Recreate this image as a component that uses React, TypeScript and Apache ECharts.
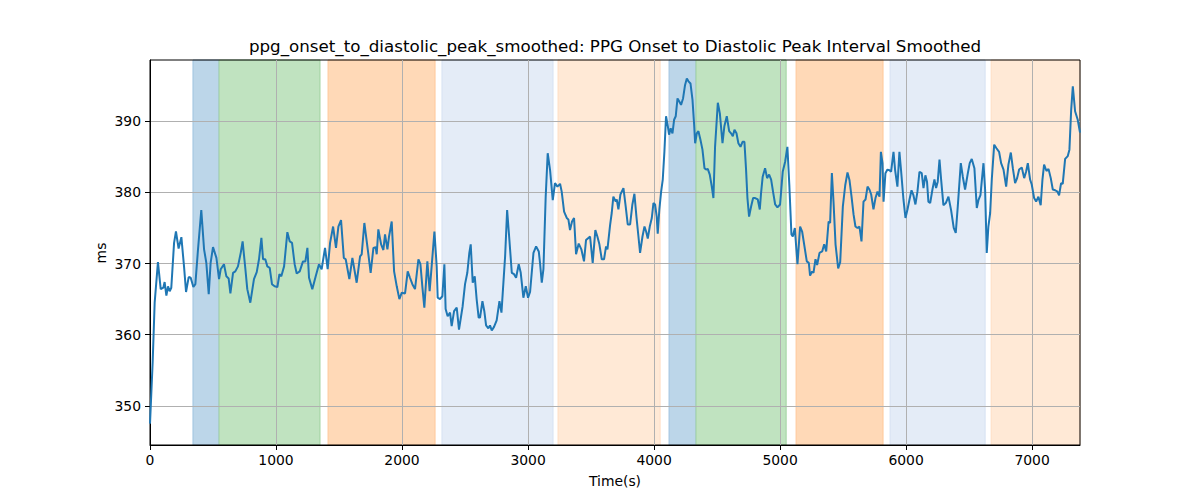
import React, { useEffect, useRef } from "react";
import * as echarts from "echarts";

const CHART_TITLE = "ppg_onset_to_diastolic_peak_smoothed: PPG Onset to Diastolic Peak Interval Smoothed";
const X_LABEL = "Time(s)";
const Y_LABEL = "ms";

const xTicks = [0, 1000, 2000, 3000, 4000, 5000, 6000, 7000];
const yTicks = [350, 360, 370, 380, 390];

const timeSec = [
  0, 21, 37, 63, 85, 106, 116, 130, 143, 156, 169, 191, 206, 227, 249, 270, 286, 307, 323, 344,
  360, 381, 407, 429, 447, 466, 481, 500, 527, 548, 561, 587, 606, 624, 638, 659, 677, 698, 720, 735,
  757, 772, 796, 825, 847, 865, 884, 897, 915, 931, 950, 968, 989, 1011, 1027, 1042, 1064, 1090, 1109, 1127,
  1148, 1164, 1188, 1214, 1233, 1249, 1262, 1288, 1315, 1341, 1362, 1389, 1410, 1429, 1453, 1476, 1495, 1516, 1538, 1553,
  1582, 1606, 1640, 1667, 1680, 1701, 1728, 1751, 1773, 1791, 1799, 1812, 1834, 1852, 1865, 1884, 1897, 1918, 1937, 1958,
  1979, 1998, 2024, 2045, 2063, 2082, 2103, 2130, 2146, 2161, 2177, 2201, 2219, 2235, 2257, 2275, 2283, 2301, 2320, 2336,
  2346, 2362, 2381, 2394, 2413, 2434, 2452, 2481, 2500, 2518, 2534, 2545, 2561, 2577, 2592, 2608, 2619, 2638, 2653, 2667,
  2685, 2698, 2712, 2730, 2751, 2773, 2789, 2818, 2834, 2852, 2871, 2889, 2905, 2926, 2942, 2963, 2982, 3000, 3016, 3043,
  3064, 3085, 3095, 3109, 3122, 3140, 3156, 3175, 3196, 3214, 3233, 3254, 3267, 3286, 3307, 3320, 3333, 3349, 3365, 3381,
  3402, 3423, 3444, 3460, 3479, 3492, 3513, 3534, 3550, 3566, 3585, 3603, 3619, 3630, 3651, 3664, 3677, 3696, 3704, 3717,
  3733, 3757, 3775, 3791, 3810, 3828, 3844, 3860, 3876, 3889, 3908, 3924, 3937, 3950, 3966, 3982, 3995, 4008, 4021, 4029,
  4042, 4056, 4069, 4082, 4095, 4109, 4119, 4132, 4146, 4159, 4172, 4186, 4199, 4214, 4230, 4246, 4260, 4273, 4289, 4305,
  4318, 4326, 4339, 4352, 4368, 4384, 4400, 4413, 4426, 4442, 4458, 4471, 4484, 4506, 4522, 4543, 4558, 4577, 4596, 4611,
  4625, 4638, 4654, 4669, 4686, 4702, 4717, 4730, 4741, 4754, 4770, 4786, 4802, 4823, 4839, 4849, 4862, 4881, 4897, 4913,
  4929, 4945, 4961, 4979, 5000, 5021, 5040, 5058, 5074, 5090, 5101, 5117, 5138, 5159, 5175, 5191, 5212, 5228, 5238, 5254,
  5265, 5281, 5294, 5313, 5334, 5350, 5366, 5385, 5397, 5411, 5424, 5440, 5461, 5477, 5498, 5517, 5535, 5551, 5567, 5583,
  5598, 5614, 5630, 5646, 5662, 5678, 5694, 5709, 5723, 5741, 5757, 5773, 5789, 5800, 5813, 5821, 5836, 5852, 5868, 5881,
  5900, 5913, 5931, 5947, 5960, 5979, 5995, 6011, 6027, 6043, 6058, 6074, 6090, 6106, 6124, 6138, 6153, 6166, 6177, 6191,
  6209, 6225, 6238, 6251, 6265, 6278, 6296, 6315, 6336, 6357, 6378, 6394, 6410, 6434, 6450, 6468, 6490, 6505, 6521, 6542,
  6561, 6574, 6590, 6614, 6627, 6640, 6653, 6667, 6680, 6699, 6717, 6738, 6754, 6773, 6794, 6812, 6831, 6847, 6865, 6881,
  6897, 6918, 6937, 6952, 6966, 6984, 6997, 7016, 7032, 7050, 7068, 7082, 7095, 7114, 7130, 7148, 7164, 7183, 7201, 7214,
  7230, 7243, 7262, 7283, 7296, 7310, 7323, 7341, 7362, 7380,
];

const intervalMs = [
  347.5, 356.1, 364.5, 370.2, 366.4, 366.6, 367.4, 365.5, 366.8, 366.1, 366.6, 372.9, 374.5, 372.1, 373.7, 369.6, 366.0, 368.1, 368.0, 366.7,
  367.1, 372.0, 377.5, 372.0, 370.1, 365.7, 370.1, 372.3, 370.8, 367.8, 369.2, 369.9, 368.2, 367.9, 365.8, 368.7, 368.9, 369.6, 371.5, 373.1,
  369.2, 366.4, 364.5, 367.8, 368.8, 370.6, 373.6, 370.6, 370.6, 369.6, 369.4, 367.1, 366.8, 366.7, 368.5, 368.2, 369.6, 374.4, 373.1, 372.9,
  369.9, 368.6, 368.9, 370.3, 370.3, 372.2, 368.0, 366.4, 368.2, 369.9, 369.2, 372.2, 369.2, 372.9, 375.2, 372.2, 375.2, 376.1, 370.8, 370.6,
  367.8, 370.8, 367.3, 371.0, 371.3, 375.7, 372.0, 368.7, 372.2, 372.3, 371.3, 374.8, 372.7, 371.9, 374.1, 372.0, 373.8, 375.9, 368.9, 366.8,
  365.0, 365.9, 365.8, 368.9, 368.0, 367.1, 366.4, 370.6, 369.9, 366.8, 363.8, 370.3, 366.1, 369.6, 374.5, 369.6, 365.2, 365.0, 365.4, 369.9,
  363.6, 362.6, 363.1, 361.2, 363.3, 363.8, 360.7, 364.0, 367.1, 368.7, 371.5, 372.7, 367.3, 368.2, 365.0, 362.4, 362.4, 364.7, 363.3, 361.3,
  360.9, 361.3, 360.6, 361.1, 362.0, 364.7, 363.1, 371.0, 377.5, 373.3, 368.7, 368.5, 368.0, 369.9, 368.7, 365.2, 366.8, 365.2, 366.0, 371.5,
  372.4, 371.7, 370.1, 367.3, 369.2, 379.4, 385.5, 383.1, 378.9, 381.3, 380.8, 381.2, 380.1, 377.3, 376.4, 376.2, 374.7, 375.9, 376.4, 371.3,
  372.8, 372.0, 370.3, 373.3, 373.6, 373.8, 370.1, 374.7, 373.8, 372.7, 370.6, 370.6, 372.4, 372.0, 375.4, 377.1, 379.4, 378.7, 379.0, 377.6,
  379.7, 380.6, 378.0, 375.5, 375.5, 378.3, 379.8, 376.6, 373.8, 371.5, 373.8, 375.2, 374.5, 373.5, 375.2, 376.4, 378.5, 378.3, 376.6, 374.2,
  377.6, 380.1, 381.8, 385.7, 390.7, 389.3, 388.1, 389.0, 388.3, 390.2, 390.7, 393.2, 392.8, 392.3, 393.2, 395.1, 396.0, 395.6, 395.3, 393.0,
  389.5, 386.9, 388.3, 388.6, 387.4, 386.0, 383.4, 383.2, 383.3, 382.5, 380.8, 379.2, 386.4, 392.6, 391.1, 386.9, 389.3, 390.7, 388.6, 388.3,
  387.9, 388.8, 388.3, 386.9, 386.4, 387.1, 387.1, 383.2, 379.2, 376.6, 378.0, 379.2, 379.2, 379.0, 377.6, 379.9, 382.2, 383.4, 382.0, 382.5,
  381.8, 380.0, 378.3, 377.9, 378.3, 382.9, 384.3, 386.4, 380.8, 374.1, 373.8, 375.0, 369.9, 375.2, 374.5, 372.7, 370.3, 370.1, 368.3, 368.9,
  368.7, 370.6, 369.8, 371.5, 371.7, 372.7, 371.7, 375.9, 375.7, 382.7, 378.7, 372.7, 369.3, 370.2, 378.0, 381.0, 382.8, 381.7, 379.4, 376.9,
  375.2, 375.0, 375.2, 373.1, 378.7, 379.0, 380.8, 380.4, 379.7, 377.6, 379.2, 380.1, 379.4, 385.7, 384.1, 378.7, 382.7, 383.2, 383.1, 382.9,
  385.7, 383.1, 380.8, 385.7, 383.1, 379.0, 376.4, 377.6, 379.0, 380.3, 379.6, 378.3, 380.1, 382.9, 382.7, 380.6, 382.4, 381.5, 378.7, 378.5,
  380.4, 381.8, 380.6, 381.5, 384.6, 381.8, 378.2, 378.5, 379.4, 377.5, 375.0, 374.3, 378.0, 384.1, 382.2, 380.4, 382.7, 384.1, 384.7, 383.4,
  377.8, 378.9, 379.6, 384.1, 380.4, 371.5, 375.2, 377.1, 381.8, 386.7, 386.2, 385.7, 384.1, 383.2, 380.8, 383.9, 385.6, 383.4, 381.3, 382.0,
  383.2, 383.5, 382.0, 382.9, 384.1, 381.8, 381.1, 379.2, 378.7, 379.4, 378.2, 381.8, 383.9, 383.0, 383.3, 382.0, 380.4, 380.3, 380.1, 379.6,
  381.3, 381.2, 384.7, 385.1, 386.0, 391.6, 394.9, 391.4, 390.2, 388.4,
];

const bandStart = [341, 548, 1413, 2317, 3238, 4119, 4333, 5127, 5873, 6675];
const bandEnd = [548, 1349, 2262, 3198, 4048, 4333, 5048, 5817, 6627, 7380];
const bandFill = [
  "rgb(188,214,233)", "rgb(192,227,192)", "rgb(255,217,183)", "rgb(228,236,247)", "rgb(255,233,214)",
  "rgb(188,214,233)", "rgb(192,227,192)", "rgb(255,217,183)", "rgb(228,236,247)", "rgb(255,233,214)",
];
const bandEdge = [
  "rgb(160,196,224)", "rgb(160,210,160)", "rgb(255,200,155)", "rgb(214,226,242)", "rgb(255,222,196)",
  "rgb(160,196,224)", "rgb(160,210,160)", "rgb(255,200,155)", "rgb(214,226,242)", "rgb(255,222,196)",
];

const X_MIN = 0;
const X_MAX = 7380;
const Y_MIN = 344.5;
const Y_MAX = 398.6;

const FONT = "DejaVu Sans";

export default function App() {
  const ref = useRef<HTMLDivElement>(null);
  useEffect(() => {
    if (!ref.current) return;
    const chart = echarts.init(ref.current, null, { renderer: "svg", width: 1200, height: 500 });
    const lineData = timeSec.map((t, i) => [t, intervalMs[i]]);
    const areas = bandStart.map((s, i) => [
      {
        xAxis: s,
        itemStyle: { color: bandFill[i], borderColor: bandEdge[i], borderWidth: 1 },
      },
      { xAxis: bandEnd[i] },
    ]);
    chart.setOption({
      animation: false,
      backgroundColor: "#ffffff",
      textStyle: { fontFamily: FONT },
      grid: {
        left: 150,
        right: 120,
        top: 60,
        bottom: 55,
        show: true,
        borderColor: "#000000",
        borderWidth: 1,
        backgroundColor: "transparent",
        z: 3,
      },
      xAxis: {
        type: "value",
        min: X_MIN,
        max: X_MAX,
        interval: 1000,
        z: 3,
        axisLine: { show: true, onZero: false, lineStyle: { color: "#000", width: 1 } },
        axisTick: { show: true, length: 5, customValues: xTicks, lineStyle: { color: "#000", width: 1 } },
        axisLabel: {
          color: "#000",
          fontSize: 13.9,
          fontFamily: FONT,
          margin: 8,
          customValues: xTicks,
          formatter: (v: number) => (v % 1000 === 0 ? String(v) : ""),
        },
        splitLine: { show: true, lineStyle: { color: "#b0b0b0", width: 1 } },
      },
      yAxis: {
        type: "value",
        min: Y_MIN,
        max: Y_MAX,
        splitNumber: 5,
        z: 3,
        axisLine: { show: true, onZero: false, lineStyle: { color: "#000", width: 1 } },
        axisTick: { show: true, length: 5, customValues: yTicks, lineStyle: { color: "#000", width: 1 } },
        axisLabel: {
          color: "#000",
          fontSize: 13.9,
          fontFamily: FONT,
          margin: 9,
          customValues: yTicks,
          formatter: (v: number) => (Math.abs(v % 10) < 1e-6 ? String(v) : ""),
        },
        splitLine: { show: true, lineStyle: { color: "#b0b0b0", width: 1 } },
      },
      graphic: [
        {
          type: "text",
          x: 615,
          y: 46,
          style: {
            text: CHART_TITLE,
            fill: "#000",
            font: `16.7px '${FONT}'`,
            textAlign: "center",
            textVerticalAlign: "middle",
          },
        },
        {
          type: "text",
          x: 615,
          y: 481,
          style: {
            text: X_LABEL,
            fill: "#000",
            font: `13.9px '${FONT}'`,
            textAlign: "center",
            textVerticalAlign: "middle",
          },
        },
        {
          type: "text",
          x: 101,
          y: 253,
          rotation: Math.PI / 2,
          style: {
            text: Y_LABEL,
            fill: "#000",
            font: `13.9px '${FONT}'`,
            textAlign: "center",
            textVerticalAlign: "middle",
          },
        },
      ],
      series: [
        {
          type: "line",
          name: "bands",
          data: [],
          z: 1,
          silent: true,
          markArea: { silent: true, data: areas },
        },
        {
          type: "line",
          name: "interval",
          data: lineData,
          z: 4,
          showSymbol: false,
          symbol: "none",
          lineStyle: { color: "#1f77b4", width: 2 },
          clip: true,
        },
      ],
    });
    return () => chart.dispose();
  }, []);
  return (
    <div
      ref={ref}
      style={{ position: "fixed", left: 0, top: 0, width: 1200, height: 500, background: "#fff" }}
    />
  );
}
